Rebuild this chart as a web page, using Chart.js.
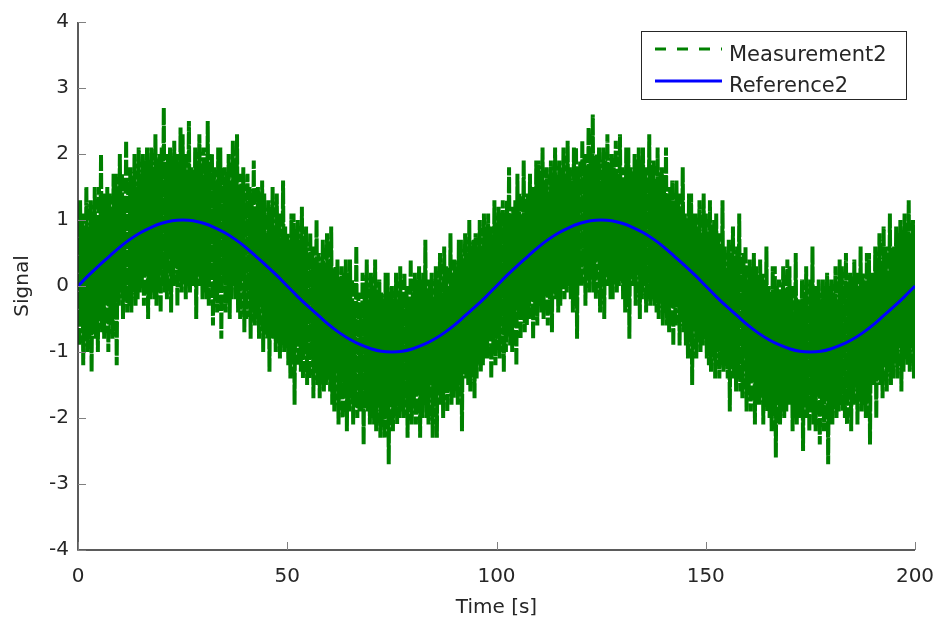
<!DOCTYPE html>
<html>
<head>
<meta charset="utf-8">
<script src="https://cdn.jsdelivr.net/npm/chart.js@4.4.1/dist/chart.umd.min.js"></script>
<style>
  html, body { margin: 0; padding: 0; background: #fff; }
</style>
</head>
<body>
<canvas id="chart" width="938" height="624"></canvas>
<script>
// sampling steps (s)
const measStep = 0.25;
const refStep = 2.5;

// Measurement2 (noisy signal), one value every 0.25 s from 0 to 200 s, 10 s per row
const measurement = [
  1.0,-0.9,1.3,-0.6,1.1,-1.2,0.9,-0.8,1.5,-1.0, 0.8,-0.8,1.3,-1.3,1.1,-0.6,1.5,-0.8,0.9,-1.0,
  1.5,-0.5,2.0,-0.7,1.2,-0.8,1.4,-0.2,1.5,-1.0, 1.4,-0.6,1.2,-0.8,1.7,-0.5,1.7,-1.2,1.4,-0.3,
  2.0,-0.1,1.7,-0.5,1.3,-0.2,2.2,-0.4,1.5,-0.3, 1.8,-0.4,1.6,-0.1,2.0,-0.3,1.5,-0.2,2.1,-0.1,
  1.7,0.0,2.0,-0.3,1.9,0.2,2.1,-0.5,1.9,-0.2, 2.1,-0.1,1.8,-0.2,2.3,-0.3,1.8,0.1,2.0,-0.4,
  2.1,0.1,2.7,-0.1,1.8,-0.2,2.0,0.4,2.1,-0.4, 1.9,0.0,2.2,0.3,2.0,-0.3,1.8,0.1,2.4,-0.1,
  2.3,0.2,2.0,-0.2,1.6,0.1,2.5,-0.1,1.8,0.0, 1.6,0.0,2.1,-0.5,1.9,0.2,2.3,0.0,1.7,-0.2,
  2.1,-0.1,1.8,-0.2,2.5,-0.3,1.8,0.1,2.0,-0.6, 1.8,-0.2,1.6,-0.4,2.1,-0.1,2.1,-0.8,1.8,0.1,
  1.8,-0.4,1.7,-0.1,2.0,-0.5,1.5,-0.2,2.2,0.0, 1.8,-0.2,2.3,-0.4,1.5,-0.5,1.7,0.1,1.8,-0.7,
  1.4,-0.5,1.7,-0.2,1.5,-0.8,1.3,-0.4,1.9,-0.6, 1.2,-0.5,1.5,-0.8,1.4,-0.3,1.6,-1.0,1.4,-0.7,
  0.8,-0.8,1.3,-1.3,1.1,-0.6,1.5,-0.8,0.9,-1.0, 1.4,-0.7,1.1,-1.1,0.7,-0.8,1.6,-1.0,0.9,-0.9,
  0.8,-1.2,0.6,-1.4,1.1,-1.1,1.1,-1.8,0.8,-0.9, 1.0,-1.2,0.7,-1.3,1.2,-1.4,0.7,-1.0,0.9,-1.5,
  0.5,-1.4,0.8,-1.1,0.6,-1.7,0.4,-1.3,1.0,-1.5, 0.5,-1.7,0.3,-1.4,0.7,-1.6,0.2,-1.5,0.8,-1.4,
  0.4,-1.6,0.9,-1.8,0.1,-1.9,0.3,-1.3,0.4,-2.1, 0.0,-1.7,0.3,-2.0,0.2,-1.5,0.4,-2.2,0.2,-1.9,
  0.4,-1.7,0.1,-2.1,-0.3,-1.8,0.6,-2.0,-0.1,-1.9, -0.3,-1.9,0.2,-2.4,0.0,-1.7,0.4,-1.9,-0.2,-2.1,
  0.2,-2.0,-0.1,-2.1,0.4,-2.2,-0.1,-1.8,0.1,-2.3, -0.1,-2.1,-0.3,-2.3,0.2,-2.0,0.2,-2.7,-0.1,-1.8,
  0.0,-2.2,-0.2,-1.9,0.2,-2.1,-0.3,-2.0,0.3,-1.9, -0.1,-2.0,0.2,-1.7,0.0,-2.3,-0.2,-1.9,0.4,-2.1,
  -0.1,-1.8,0.2,-2.1,0.1,-1.6,0.3,-2.3,0.1,-2.0, 0.2,-1.8,0.7,-2.0,-0.1,-2.1,0.1,-1.5,0.2,-2.3,
  -0.2,-1.8,0.3,-2.3,0.1,-1.6,0.5,-1.8,-0.1,-2.0, 0.6,-1.5,0.3,-1.9,-0.1,-1.6,0.8,-1.8,0.1,-1.7,
  0.4,-1.6,0.2,-1.8,0.7,-1.5,0.7,-2.2,0.4,-1.3, 0.8,-1.4,0.5,-1.5,1.0,-1.6,0.5,-1.2,0.7,-1.7,
  0.8,-1.4,0.6,-1.1,1.0,-1.3,0.5,-1.2,1.1,-1.1, 0.8,-1.1,1.1,-0.8,0.9,-1.4,0.7,-1.0,1.3,-1.2,
  0.9,-0.8,1.2,-1.1,1.1,-0.6,1.3,-1.3,1.1,-1.0, 1.3,-0.7,1.8,-0.9,1.0,-1.0,1.2,-0.4,1.3,-1.2,
  1.7,-0.4,1.4,-0.8,1.0,-0.5,1.9,-0.7,1.2,-0.6, 1.4,-0.5,1.7,-0.2,1.5,-0.8,1.3,-0.4,1.9,-0.6,
  1.9,-0.3,1.6,-0.4,2.1,-0.5,1.6,-0.1,1.8,-0.6, 1.4,-0.2,1.9,-0.7,1.7,0.0,2.1,-0.2,1.5,-0.4,
  1.9,-0.3,1.7,0.0,2.1,-0.2,1.6,-0.1,2.2,0.0, 1.8,-0.2,1.6,-0.4,2.1,-0.1,2.1,-0.8,1.8,0.1,
  1.9,0.0,2.2,0.3,2.0,-0.3,1.8,0.1,2.4,-0.1, 2.1,0.1,2.6,-0.1,1.8,-0.2,2.0,0.4,2.1,-0.4,
  1.6,0.0,2.1,-0.5,1.9,0.2,2.3,0.0,1.7,-0.2, 2.0,-0.2,1.8,0.1,2.2,-0.1,1.7,0.0,2.3,0.1,
  1.8,-0.2,1.6,-0.4,2.1,-0.1,2.1,-0.8,1.8,0.1, 1.7,0.0,2.0,-0.3,1.9,0.2,2.1,-0.5,1.9,-0.2,
  2.1,0.0,1.8,-0.4,1.4,-0.1,2.3,-0.3,1.6,-0.2, 1.9,-0.3,1.6,-0.4,2.1,-0.5,1.6,-0.1,1.8,-0.6,
  1.6,-0.4,2.1,-0.6,1.3,-0.7,1.5,-0.1,1.6,-0.9, 1.3,-0.6,1.6,-0.3,1.4,-0.9,1.2,-0.5,1.8,-0.7,
  1.1,-0.9,0.9,-1.1,1.4,-0.8,1.4,-1.5,1.1,-0.6, 1.1,-1.1,0.9,-0.8,1.3,-1.0,0.8,-0.9,1.4,-0.8,
  1.1,-1.1,0.8,-1.2,1.3,-1.3,0.8,-0.9,1.0,-1.4, 1.1,-1.0,0.8,-1.4,0.4,-1.1,1.3,-1.3,0.6,-1.2,
  0.2,-1.4,0.7,-1.9,0.5,-1.2,0.9,-1.4,0.3,-1.6, 0.6,-1.4,1.1,-1.6,0.3,-1.7,0.5,-1.1,0.6,-1.9,
  0.1,-1.6,0.4,-1.9,0.3,-1.4,0.5,-2.1,0.3,-1.8, 0.1,-1.8,0.4,-1.5,0.2,-2.1,0.0,-1.7,0.6,-1.9,
  0.0,-2.0,-0.2,-2.2,0.3,-1.9,0.3,-2.6,0.0,-1.7, 0.1,-2.1,-0.1,-1.8,0.3,-2.0,-0.2,-1.9,0.4,-1.8,
  0.3,-1.8,0.0,-2.2,-0.4,-1.9,0.5,-2.1,-0.2,-2.0, -0.4,-2.0,0.1,-2.5,-0.1,-1.8,0.3,-2.0,-0.3,-2.2,
  0.1,-1.9,0.6,-2.1,-0.2,-2.2,0.0,-1.6,0.1,-2.4, -0.2,-1.9,0.1,-2.2,0.0,-1.7,0.2,-2.7,0.0,-2.1,
  0.1,-2.1,-0.1,-1.8,0.3,-2.0,-0.2,-1.9,0.4,-1.8, 0.3,-1.9,0.0,-2.0,0.5,-2.1,0.0,-1.7,0.2,-2.2,
  0.1,-1.8,0.4,-1.5,0.2,-2.1,0.0,-1.7,0.6,-1.9, 0.2,-1.8,0.0,-2.0,0.5,-1.7,0.5,-2.4,0.2,-1.5,
  0.1,-1.5,0.6,-2.0,0.4,-1.3,0.8,-1.5,0.2,-1.7, 0.9,-1.2,0.6,-1.6,0.2,-1.3,1.1,-1.5,0.4,-1.4,
  0.6,-1.1,0.9,-1.4,0.8,-0.9,1.0,-1.6,0.8,-1.3, 1.1,-1.1,0.8,-1.2,1.3,-1.3,0.8,-0.9,1.0,-1.4,
  1.0
];

// Reference2 (clean sine), one value every 2.5 s from 0 to 200 s
const reference = [
  0, 0.16, 0.31, 0.45, 0.59, 0.71, 0.81, 0.89, 0.95, 0.99,
  1, 0.99, 0.95, 0.89, 0.81, 0.71, 0.59, 0.45, 0.31, 0.16,
  0, -0.16, -0.31, -0.45, -0.59, -0.71, -0.81, -0.89, -0.95, -0.99,
  -1, -0.99, -0.95, -0.89, -0.81, -0.71, -0.59, -0.45, -0.31, -0.16,
  0, 0.16, 0.31, 0.45, 0.59, 0.71, 0.81, 0.89, 0.95, 0.99,
  1, 0.99, 0.95, 0.89, 0.81, 0.71, 0.59, 0.45, 0.31, 0.16,
  0, -0.16, -0.31, -0.45, -0.59, -0.71, -0.81, -0.89, -0.95, -0.99,
  -1, -0.99, -0.95, -0.89, -0.81, -0.71, -0.59, -0.45, -0.31, -0.16,
  0
];

const xTicks = [0, 50, 100, 150, 200];
const yTicks = [-4, -3, -2, -1, 0, 1, 2, 3, 4];
const seriesNames = ["Measurement2", "Reference2"];

const FONT = "'DejaVu Sans', sans-serif";
const GREEN = "#008000";
const BLUE = "#0000ff";
const INK = "#262626";

// axes lines, inward ticks and legend box
const decorPlugin = {
  id: "decor",
  afterDraw(chart) {
    const ctx = chart.ctx;
    const area = chart.chartArea;
    const xs = chart.scales.x;
    const ys = chart.scales.y;
    ctx.save();
    ctx.lineWidth = 1.5;
    ctx.strokeStyle = INK;
    ctx.beginPath();
    ctx.moveTo(area.left, area.top);
    ctx.lineTo(area.left, area.bottom);
    ctx.lineTo(area.right, area.bottom);
    ctx.stroke();

    ctx.lineWidth = 1;
    ctx.strokeStyle = "#808080";
    ctx.beginPath();
    yTicks.forEach((v) => {
      const y = Math.round(ys.getPixelForValue(v)) + 0.5;
      ctx.moveTo(area.left, y);
      ctx.lineTo(area.left + 8, y);
    });
    xTicks.forEach((v) => {
      const x = Math.round(xs.getPixelForValue(v)) + 0.5;
      ctx.moveTo(x, area.bottom);
      ctx.lineTo(x, area.bottom - 8);
    });
    ctx.stroke();

    // legend
    const lx = 641, ly = 31, lw = 265, lh = 68;
    ctx.fillStyle = "#fff";
    ctx.fillRect(lx, ly, lw, lh);
    ctx.strokeStyle = INK;
    ctx.lineWidth = 1;
    ctx.strokeRect(lx + 0.5, ly + 0.5, lw, lh);

    ctx.lineWidth = 3;
    ctx.strokeStyle = GREEN;
    ctx.setLineDash([11, 11]);
    ctx.beginPath();
    ctx.moveTo(655, 49);
    ctx.lineTo(722, 49);
    ctx.stroke();
    ctx.setLineDash([]);
    ctx.strokeStyle = BLUE;
    ctx.beginPath();
    ctx.moveTo(655, 81);
    ctx.lineTo(722, 81);
    ctx.stroke();

    ctx.fillStyle = INK;
    ctx.font = "21px " + FONT;
    ctx.textBaseline = "alphabetic";
    ctx.textAlign = "left";
    ctx.fillText(seriesNames[0], 729, 61);
    ctx.fillText(seriesNames[1], 729, 92);
    ctx.restore();
  },
};

const ctx = document.getElementById("chart").getContext("2d");

new Chart(ctx, {
  type: "line",
  data: {
    datasets: [
      {
        label: seriesNames[0],
        data: measurement.map((v, i) => ({ x: i * measStep, y: v })),
        borderColor: GREEN,
        borderWidth: 4,
        borderDash: [16, 2],
        pointRadius: 0,
        tension: 0,
        order: 1,
      },
      {
        label: seriesNames[1],
        data: reference.map((v, i) => ({ x: i * refStep, y: v })),
        borderColor: BLUE,
        borderWidth: 3,
        pointRadius: 0,
        cubicInterpolationMode: "monotone",
        order: 0,
      },
    ],
  },
  options: {
    responsive: false,
    animation: false,
    layout: { padding: { top: 22, right: 23, left: 0, bottom: 0 } },
    plugins: {
      legend: { display: false },
      tooltip: { enabled: false },
    },
    scales: {
      x: {
        type: "linear",
        min: 0,
        max: 200,
        border: { display: false },
        grid: { display: false, drawTicks: false },
        afterBuildTicks: (scale) => {
          scale.ticks = xTicks.map((v) => ({ value: v }));
        },
        afterFit: (scale) => {
          scale.height = 74;
          scale.paddingLeft = 0;
          scale.paddingRight = 0;
        },
        ticks: {
          padding: 15,
          color: INK,
          font: { family: FONT, size: 20 },
        },
        title: {
          display: true,
          text: "Time [s]",
          color: INK,
          font: { family: FONT, size: 20 },
          padding: { top: 0, bottom: 4 },
        },
      },
      y: {
        min: -4,
        max: 4,
        border: { display: false },
        grid: { display: false, drawTicks: false },
        afterBuildTicks: (scale) => {
          scale.ticks = yTicks.map((v) => ({ value: v }));
        },
        afterFit: (scale) => {
          scale.width = 78;
          scale.paddingTop = 0;
          scale.paddingBottom = 0;
        },
        ticks: {
          padding: 9,
          color: INK,
          font: { family: FONT, size: 20 },
        },
        title: {
          display: true,
          text: "Signal",
          color: INK,
          font: { family: FONT, size: 20 },
          padding: { top: 11, bottom: 0 },
        },
      },
    },
  },
  plugins: [decorPlugin],
});
</script>
</body>
</html>
